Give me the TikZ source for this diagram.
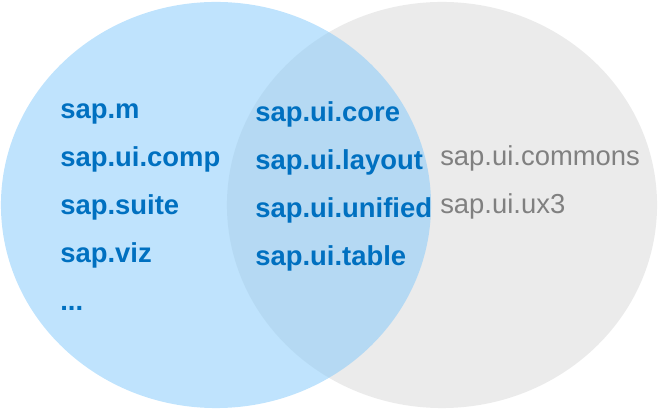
\documentclass[tikz,border=0pt]{standalone}
\usepackage{fontspec}
\setmainfont{Liberation Sans}
\usepackage{xcolor}
\usepackage{tikz}
\usetikzlibrary{positioning}

\definecolor{sapblue}{RGB}{0,112,192}
\definecolor{setblue}{RGB}{138,204,251}
\definecolor{setgrey}{RGB}{235,235,235}
\definecolor{libgrey}{RGB}{128,128,128}

\begin{document}
\begin{tikzpicture}[
  x=0.025cm, y=-0.025cm,
  font=\fontsize{19.5}{23}\selectfont,
  lib/.style={anchor=base west, inner sep=0pt, text=sapblue, font=\fontsize{19.5}{23}\selectfont\bfseries},
  other/.style={anchor=base west, inner sep=0pt, text=libgrey},
  setA/.style={fill=setblue, fill opacity=0.55},
  setB/.style={fill=setgrey}
]
\useasboundingbox (0,0) rectangle (660,412);
% the two sets
\fill[setB] (442,205) ellipse [x radius=5.375cm, y radius=5.075cm];
\fill[setA] (216,205) ellipse [x radius=5.375cm, y radius=5.075cm];
% left only
\node[lib] (m)    at (60,119) {sap.m};
\node[lib] (comp) at (60,167) {sap.ui.comp};
\node[lib] (suite) at (60,215) {sap.suite};
\node[lib] (viz)  at (60,263) {sap.viz};
\node[lib] (more) at (60,311) {...};
% shared
\node[lib] (core)    at (255,122) {sap.ui.core};
\node[lib] (layout)  at (255,170) {sap.ui.layout};
\node[lib] (unified) at (255,218) {sap.ui.unified};
\node[lib] (table)   at (255,266) {sap.ui.table};
% right only
\node[other] (commons) at (440,166) {sap.ui.commons};
\node[other] (ux)      at (440,214) {sap.ui.ux3};
\end{tikzpicture}
\end{document}
